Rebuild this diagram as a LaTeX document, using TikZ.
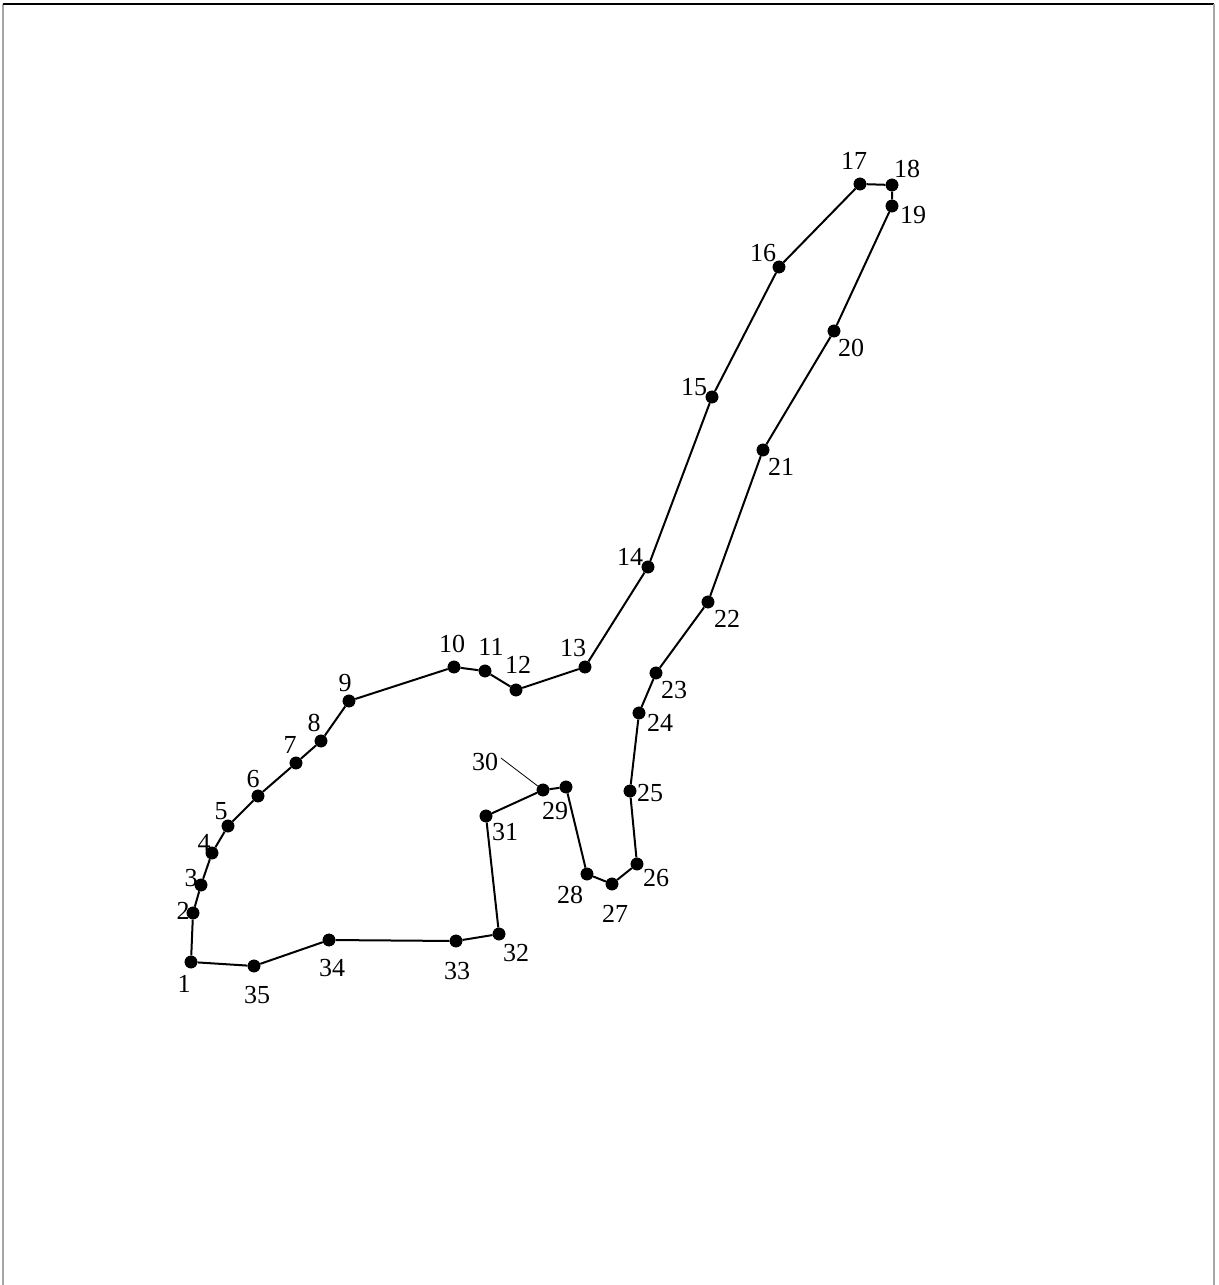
\documentclass[tikz,border=0pt]{standalone}
\usepackage{fontspec}
\setmainfont{Liberation Serif}
\begin{document}
\begin{tikzpicture}[x=0.75pt,y=-0.75pt,
  dot/.style={circle,fill=black,inner sep=0pt,minimum size=9.5pt},
  lbl/.style={font=\fontsize{19.5}{19.5}\selectfont,inner sep=0pt},
  edge/.style={line width=1.5pt},
  leader/.style={line width=0.6pt}]
\useasboundingbox (0,0) rectangle (1219,1285);
\draw[gray!70,line width=2pt] (3,1285) -- (3,4);
\draw[black,line width=1.5pt] (3,4) -- (1214,4);
\draw[gray!70,line width=2pt] (1214,4) -- (1214,1285);
% points
\foreach \n/\x/\y in {1/191/962,2/193/913,3/201/885,4/212/853,5/228/826,6/258/796,7/296/763,8/321/741,9/349/701,10/454/667,11/485/671,12/516/690,13/585/667,14/648/567,15/712/397,16/779/267,17/860/184,18/892/185,19/892/206,20/834/331,21/763/450,22/708/602,23/656/673,24/639/713,25/630/791,26/637/864,27/612/884,28/587/874,29/566/787,30/543/790,31/486/816,32/499/934,33/456/941,34/329/940,35/254/966}
  \node[dot] (p\n) at (\x,\y) {};
% outline
\draw[edge] (p1) -- (p2) -- (p3) -- (p4) -- (p5) -- (p6) -- (p7) -- (p8) -- (p9) -- (p10) -- (p11) -- (p12) -- (p13) -- (p14) -- (p15) -- (p16) -- (p17) -- (p18) -- (p19) -- (p20) -- (p21) -- (p22) -- (p23) -- (p24) -- (p25) -- (p26) -- (p27) -- (p28) -- (p29) -- (p30) -- (p31) -- (p32) -- (p33) -- (p34) -- (p35) -- (p1);
\foreach \n in {1,...,35} \node[dot] at (p\n) {};
% labels
\foreach \n/\x/\y in {1/184/984,2/183/911,3/191/878,4/204/843,5/221/811,6/253/779,7/290/745,8/314/723,9/345/683,10/452/644,11/491/647,12/518/665,13/573/648,14/630/557,15/694/387,16/763/253,17/854/161,18/907/169,19/913/215,20/851/348,21/781/467,22/727/619,23/674/690,24/660/723,25/650/793,26/656/878,27/615/914,28/570/895,29/555/811,30/485/762,31/505/832,32/516/953,33/457/971,34/332/968,35/257/995}
  \node[lbl] (l\n) at (\x,\y) {\n};
\draw[leader] (l30.east) ++(2pt,3pt) coordinate (c30) -- (p30);
\end{tikzpicture}
\end{document}
